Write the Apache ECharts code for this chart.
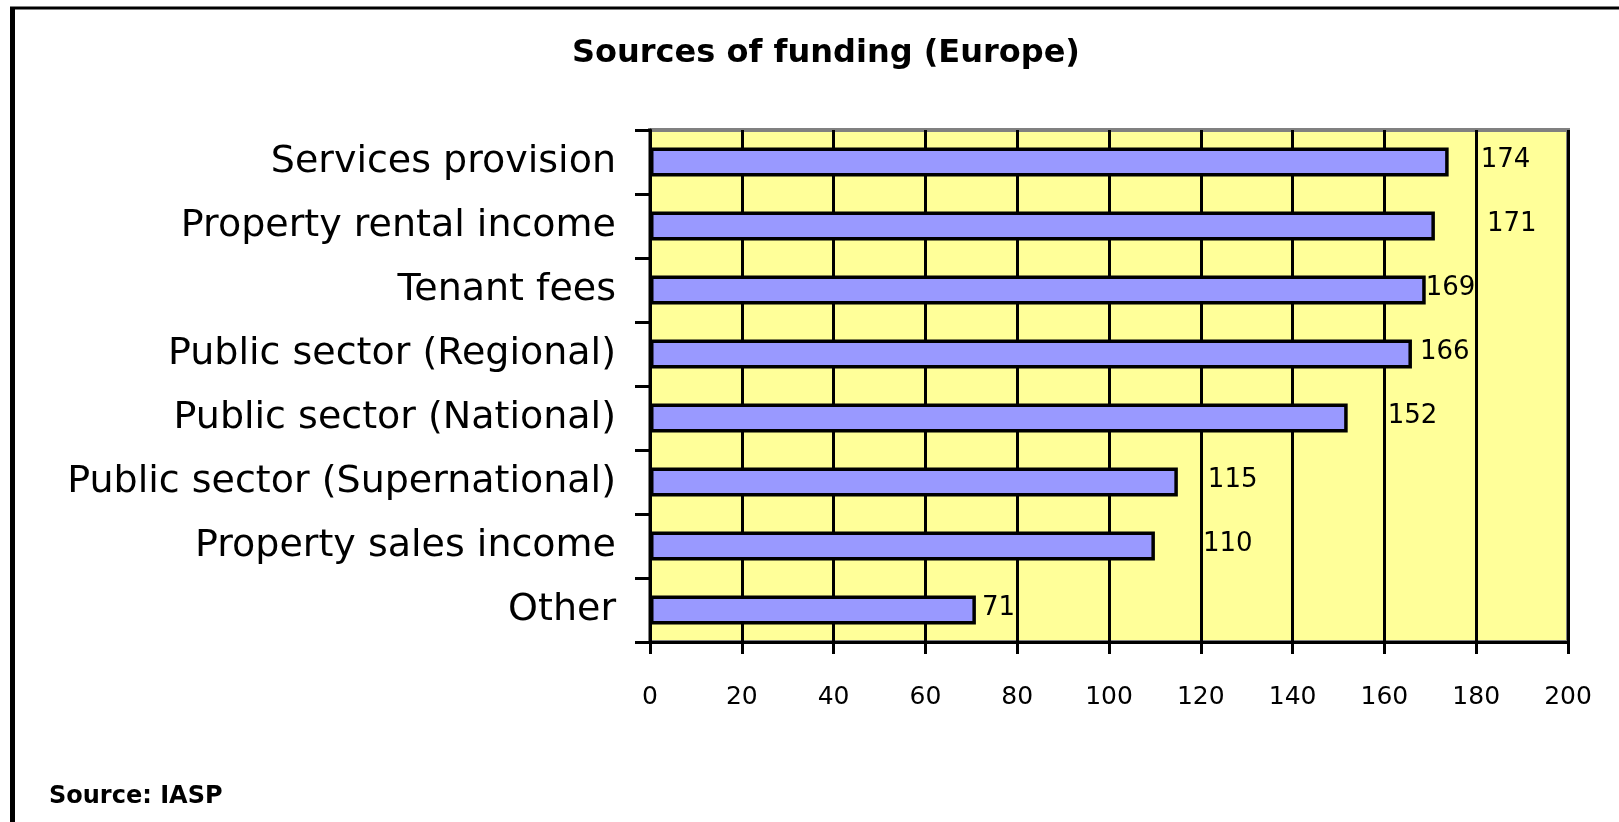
<!DOCTYPE html>
<html>
<head>
<meta charset="utf-8">
<script src="https://cdn.jsdelivr.net/npm/echarts@6/dist/echarts.min.js"></script>
<style>
  html, body { margin: 0; padding: 0; background: #fff; }
  #main { width: 1619px; height: 822px; }
</style>
</head>
<body>
<div id="main"></div>
<script>
// 数据
var categories = [
  "Services provision",
  "Property rental income",
  "Tenant fees",
  "Public sector (Regional)",
  "Public sector (National)",
  "Public sector (Supernational)",
  "Property sales income",
  "Other"
];
var values = [174, 171, 169, 166, 152, 115, 110, 71];
var xTicks = { min: 0, max: 200, interval: 20 };

// 数值标签离柱子的距离（原图里不整齐）
var labelGap = [32, 52, 0, 8, 40, 30, 48, 6];

var font = "DejaVu Sans";

var chart = echarts.init(document.getElementById("main"));
var option = {
  backgroundColor: "#fff",
  animation: false,
  title: {
    text: "Sources of funding (Europe)",
    left: 821,
    top: 33,
    textAlign: "center",
    textStyle: {
      fontFamily: font,
      fontSize: 32,
      fontWeight: "bold",
      color: "#000",
    },
  },
  grid: {
    left: 650,
    right: 51,
    top: 130,
    bottom: 180,
    show: true,
    backgroundColor: "#ffff99",
    borderColor: "#808080",
    borderWidth: 4,
  },
  xAxis: {
    type: "value",
    min: xTicks.min,
    max: xTicks.max,
    interval: xTicks.interval,
    axisLine: { show: true, lineStyle: { color: "#000", width: 3 } },
    axisTick: { show: true, length: 12, lineStyle: { color: "#000", width: 3 } },
    splitLine: { show: true, lineStyle: { color: "#000", width: 3 } },
    axisLabel: {
      margin: 43,
      fontFamily: font,
      fontSize: 25,
      color: "#000",
    },
  },
  yAxis: {
    type: "category",
    inverse: true,
    data: categories,
    axisLine: { show: true, lineStyle: { color: "#000", width: 3 } },
    axisTick: { show: true, length: 15, lineStyle: { color: "#000", width: 3 } },
    axisLabel: {
      margin: 34,
      fontFamily: font,
      fontSize: 38,
      color: "#000",
    },
  },
  series: [
    {
      type: "bar",
      barWidth: 29,
      data: values.map(function (v, i) {
        return {
          value: v,
          label: { distance: labelGap[i] },
        };
      }),
      itemStyle: {
        color: "#9999ff",
        borderColor: "#000",
        borderWidth: 3.5,
      },
      label: {
        show: true,
        position: "right",
        offset: [0, -2],
        fontFamily: font,
        fontSize: 26,
        color: "#000",
      },
    },
  ],
  graphic: [
    {
      type: "line",
      shape: { x1: 12.5, y1: 7, x2: 12.5, y2: 822 },
      style: { stroke: "#000", lineWidth: 5 },
    },
    {
      type: "line",
      shape: { x1: 10, y1: 8, x2: 1619, y2: 8 },
      style: { stroke: "#000", lineWidth: 3 },
    },
    {
      type: "text",
      left: 49,
      top: 785,
      style: {
        text: "Source: IASP",
        fontFamily: font,
        fontSize: 24,
        fontWeight: "bold",
        fill: "#000",
      },
    },
  ],
};
chart.setOption(option);
</script>
</body>
</html>
